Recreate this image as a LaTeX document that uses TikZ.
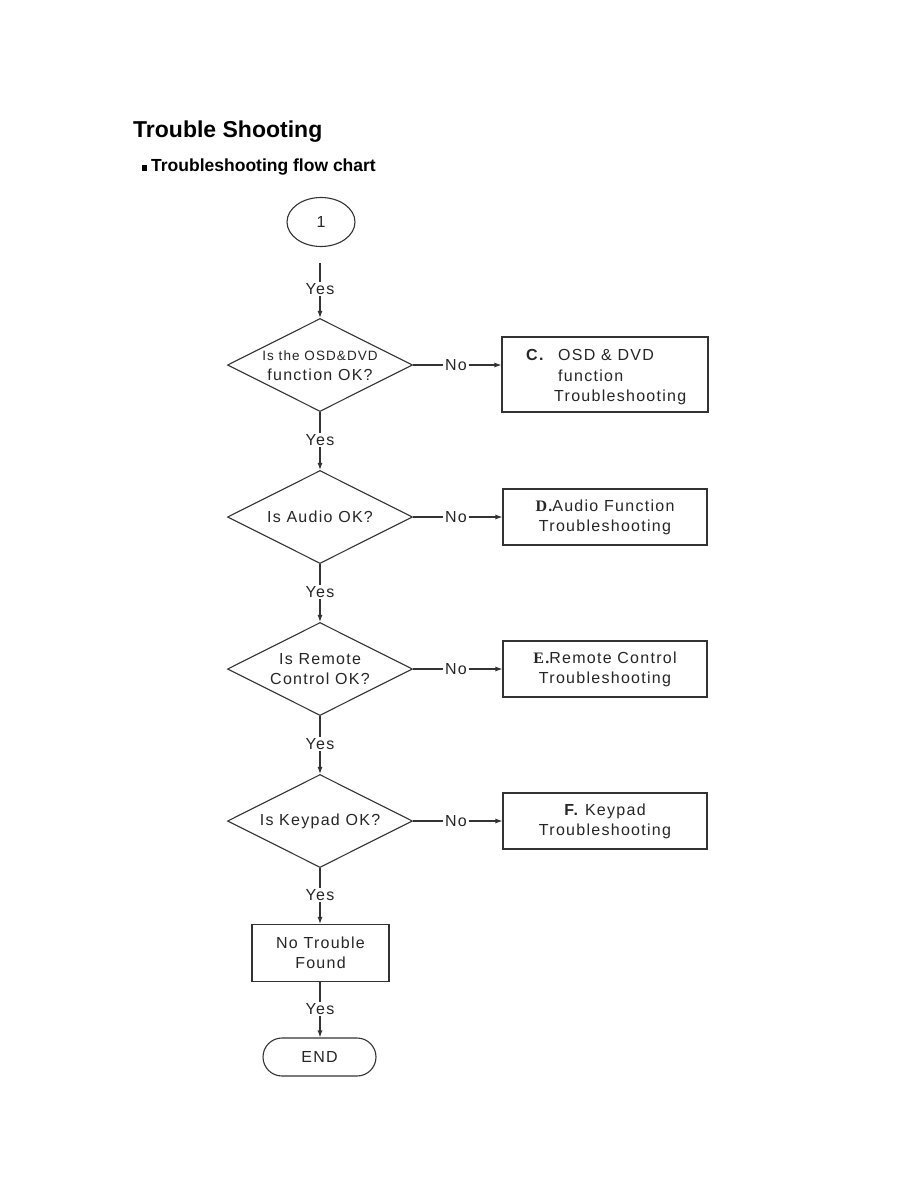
\documentclass[tikz,border=0pt]{standalone}
\usepackage{fontspec}
\setmainfont{Liberation Sans}
\newfontfamily\dfont[LetterSpace=8]{Liberation Sans}
\newfontfamily\dserif[LetterSpace=8]{Liberation Serif}
\usetikzlibrary{shapes.geometric,arrows.meta}
\begin{document}
\begin{tikzpicture}[x=1pt,y=-1pt,
 ln/.style={draw=black!80, line width=1.1pt},
 arr/.style={ln, -{Latex[length=7pt,width=5pt]}},
 dia/.style={ln, shape=diamond, minimum width=185pt, minimum height=93pt, inner sep=0pt},
 txt/.style={font=\dfont\fontsize{16}{20}\selectfont, text=black!85, align=center, inner sep=0pt},
 lbl/.style={txt, inner sep=1.5pt},
 boxr/.style={ln, rectangle, txt, minimum width=204pt, minimum height=56pt},
]
\fill[white] (0,0) rectangle (918,1188);
\useasboundingbox (0,0) rectangle (918,1188);

% titles
\node[anchor=base west, inner sep=0, font=\bfseries\fontsize{23}{28}\selectfont] (title) at (133,137) {Trouble Shooting};
\node[fill=black, minimum width=5pt, minimum height=6pt, inner sep=0] (bul) at (144.5,167.5) {};
\node[anchor=base west, inner sep=0, font=\bfseries\fontsize{17.5}{21}\selectfont] (sub) at (151,171) {Troubleshooting flow chart};

% start
\node[ln, ellipse, minimum width=68pt, minimum height=49pt, inner sep=0, txt] (c1) at (321,222) {1};
\coordinate (s0) at (320,263);
\node[lbl] (y0) at (320,289) {Yes};
\draw[ln] (s0) -- (y0.north);

% decision 1
\node[dia] (d1) at (320,365) {};
\node[txt] (d1t) at (320,365.5) {{\fontsize{13.5}{19}\selectfont Is the OSD\&DVD}\\function OK?};
\draw[arr] (y0.south) -- (d1.north);
\node[lbl] (n1) at (456,365) {No};
\node[ln, rectangle, minimum width=206pt, minimum height=75pt, inner sep=0] (bC) at (605,374.5) {};
\node[txt, anchor=west] (cC) at (526,355) {\textbf{C.}};
\node[txt, anchor=west] (cO) at (558,355) {OSD \& DVD};
\node[txt, anchor=west] (cF) at (558,376) {function};
\node[txt, anchor=west] (cT) at (554,397) {Troubleshooting};
\draw[ln] (d1.east) -- (n1.west);
\draw[arr] (n1.east) -- (n1.east -| bC.west);

% decision 2
\node[lbl] (y1) at (320,440) {Yes};
\draw[ln] (d1.south) -- (y1.north);
\node[dia] (d2) at (320,517) {};
\node[txt] (d2t) at (320,517) {Is Audio OK?};
\draw[arr] (y1.south) -- (d2.north);
\node[lbl] (n2) at (456,517) {No};
\node[boxr] (bD) at (605,517) {{\dserif\bfseries D.}Audio Function\\Troubleshooting};
\draw[ln] (d2.east) -- (n2.west);
\draw[arr] (n2.east) -- (bD.west);

% decision 3
\node[lbl] (y2) at (320,592) {Yes};
\draw[ln] (d2.south) -- (y2.north);
\node[dia] (d3) at (320,669) {};
\node[txt] (d3t) at (320,669.5) {Is Remote\\Control OK?};
\draw[arr] (y2.south) -- (d3.north);
\node[lbl] (n3) at (456,669) {No};
\node[boxr] (bE) at (605,669) {{\dserif\bfseries E.}Remote Control\\Troubleshooting};
\draw[ln] (d3.east) -- (n3.west);
\draw[arr] (n3.east) -- (bE.west);

% decision 4
\node[lbl] (y3) at (320,744) {Yes};
\draw[ln] (d3.south) -- (y3.north);
\node[dia] (d4) at (320,821) {};
\node[txt] (d4t) at (320,821) {Is Keypad OK?};
\draw[arr] (y3.south) -- (d4.north);
\node[lbl] (n4) at (456,821) {No};
\node[boxr] (bF) at (605,821) {\textbf{F.} Keypad\\Troubleshooting};
\draw[ln] (d4.east) -- (n4.west);
\draw[arr] (n4.east) -- (bF.west);

% end
\node[lbl] (y4) at (320,895) {Yes};
\draw[ln] (d4.south) -- (y4.north);
\node[ln, rectangle, txt, minimum width=137pt, minimum height=57pt] (ntf) at (320.5,953) {No Trouble\\Found};
\draw[arr] (y4.south) -- (ntf.north -| y4.south);
\node[lbl] (y5) at (320,1009) {Yes};
\draw[ln] (ntf.south -| y5.north) -- (y5.north);
\node[ln, rectangle, rounded corners=19pt, txt, minimum width=113pt, minimum height=38pt] (endn) at (319.5,1057) {END};
\draw[arr] (y5.south) -- (endn.north -| y5.south);
\end{tikzpicture}
\end{document}
